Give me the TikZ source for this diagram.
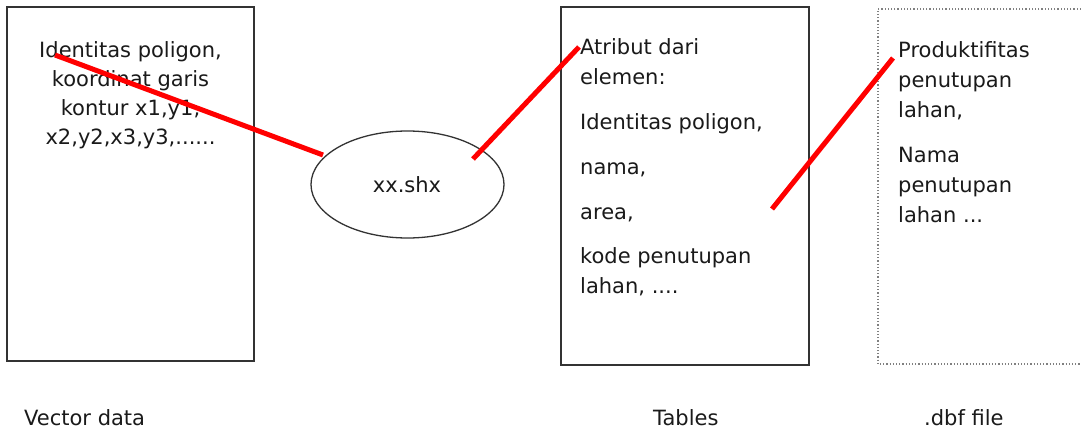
\documentclass[tikz,border=0pt]{standalone}
\usepackage{fontspec}
\setmainfont{DejaVu Sans}
\usetikzlibrary{shapes.geometric}
\definecolor{ink}{HTML}{1A1A1A}
\definecolor{frame}{HTML}{333333}
\tikzset{
  boxframe/.style={draw=frame, line width=1.3pt, inner sep=0pt},
  lbl/.style={text=ink, inner sep=0pt, font=\fontsize{21}{30}\selectfont},
  redlink/.style={draw=red, line width=5pt},
  dotframe/.style={draw=gray, line width=1.2pt, dotted},
}
\begin{document}
\begin{tikzpicture}[x=1pt,y=-1pt]
\useasboundingbox[fill=white] (0,0) rectangle (1081,431);
% boxes
\node[boxframe, minimum width=247pt, minimum height=354pt] (vec) at (130.5,184) {};
\node[boxframe, minimum width=248pt, minimum height=358pt] (tab) at (685,186) {};
\draw[dotframe] (1081,9) coordinate (dA) -- (878,9) coordinate (dB) -- (878,364) coordinate (dC) -- (1081,364) coordinate (dD);
\node[boxframe, ellipse, minimum width=193pt, minimum height=107pt] (shx) at (407.5,184.5) {};
\node[lbl] (shxt) at (407,185) {xx.shx};
% texts
\node[lbl, align=center, font=\fontsize{21}{29}\selectfont, anchor=north] (vect) at (130.5,41) {Identitas poligon,\\koordinat garis\\kontur x1,y1,\\x2,y2,x3,y3,......};
\node[lbl, align=left, anchor=north west] (tabt) at (580,38.5) {Atribut dari\\elemen:\\[15pt]Identitas poligon,\\[15pt]nama,\\[15pt]area,\\[14pt]kode penutupan\\lahan, ....};
\node[lbl, align=left, anchor=north west] (dbft) at (898,41.5) {Produktifitas\\penutupan\\lahan,\\[15pt]Nama\\penutupan\\lahan ...};
% bottom labels
\node[lbl, anchor=base west] (l1) at (24,425) {Vector data};
\node[lbl, anchor=base west] (l2) at (653,425) {Tables};
\node[lbl, anchor=base west] (l3) at (924,425) {.dbf file};
% red links
\coordinate (a1) at (55,55);
\coordinate (b1) at (323,155);
\coordinate (a2) at (473,159);
\coordinate (b2) at (579,47);
\coordinate (a3) at (772,209);
\coordinate (b3) at (893,58);
\draw[redlink] (a1) -- (b1);
\draw[redlink] (a2) -- (b2);
\draw[redlink] (a3) -- (b3);
\end{tikzpicture}
\end{document}
